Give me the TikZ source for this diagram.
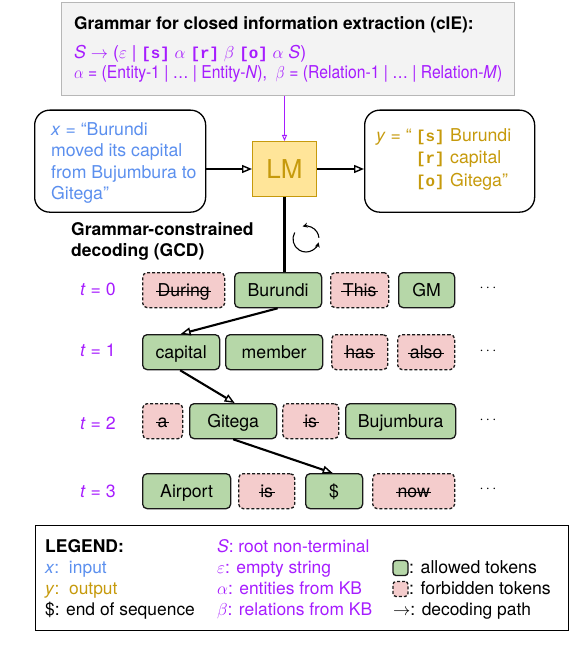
\documentclass[tikz,border=0pt]{standalone}
\usepackage{fontspec}
\setmainfont{TeX Gyre Heros}
\newfontfamily\brk{Liberation Mono}[BoldFont={Liberation Mono Bold}]
\usetikzlibrary{arrows.meta}
\definecolor{cblue}{HTML}{5B8FEE}
\definecolor{cgold}{HTML}{C69A0C}
\definecolor{cpurp}{HTML}{A61CFF}
\definecolor{cgreen}{HTML}{B6D7A8}
\definecolor{cpink}{HTML}{F4CCCC}
\definecolor{cyell}{HTML}{FFE599}
\definecolor{cgray}{HTML}{F3F3F3}
\definecolor{cgrayb}{HTML}{B7B7B7}
\newsavebox\strkbox
\newcommand\strk[1]{\sbox\strkbox{#1}\rlap{\usebox\strkbox}\kern-1.5pt\rule[4.8pt]{\dimexpr\wd\strkbox+3pt\relax}{1pt}\kern-1.5pt}
\newcommand\br[1]{{\fontsize{15.8}{18}\selectfont\brk\bfseries #1}}
\tikzset{
  x=1pt,y=1pt,
  txt/.style={anchor=base west,inner sep=0pt,font=\fontsize{17.7}{20}\selectfont},
  leg/.style={txt,font=\fontsize{17.4}{20}\selectfont},
  token/.style={draw=black!90,line width=1.3pt,rounded corners=4.5pt,inner sep=0pt,anchor=north west,text height=13pt,text depth=0pt,font=\fontsize{17.7}{20}\selectfont},
  ok/.style={token,fill=cgreen},
  bad/.style={token,fill=cpink,dashed,dash pattern=on 3pt off 2pt},
  tlabel/.style={text=cpurp,inner sep=0pt,font=\fontsize{17.7}{20}\selectfont},
  dots/.style={inner sep=0pt,font=\fontsize{14}{18}\selectfont},
  path/.style={line width=2.1pt,-{Triangle[length=10pt,width=8pt,line width=1.4pt,fill=white]}},
  textbox/.style={draw=black,line width=1.3pt,rounded corners=15pt,anchor=north west,inner sep=0pt},
}
\newcommand\tok[6]{\node[#1,minimum width=#4-#3,minimum height=35pt] (#2) at (#3,-#5) {#6};}
\begin{document}
\begin{tikzpicture}
\useasboundingbox (0,0) rectangle (570,-652);
% grammar
\node[anchor=north west,draw=cgrayb,fill=cgray,line width=0.9pt,minimum width=453pt,minimum height=93pt,inner sep=0pt] (gram) at (61,-2) {};
\node[txt,font=\fontsize{17.3}{20}\selectfont\bfseries] (gt) at (74,-30) {Grammar for closed information extraction (cIE):};
\node[txt,text=cpurp] (g1) at (74,-59) {\textit{S} $\rightarrow$ ($\varepsilon$ | \br{[s]} $\alpha$ \br{[r]} $\beta$ \br{[o]} $\alpha$ \textit{S})};
\node[txt,text=cpurp] (g2) at (74,-79) {\scalebox{0.887}[1]{$\alpha$ = (Entity-1 | … | Entity-\textit{N}),\ \ $\beta$ = (Relation-1 | … | Relation-\textit{M})}};
% input
\node[textbox,minimum width=171pt,minimum height=102pt] (inp) at (34,-109.5) {};
\node[txt,text=cblue] (i1) at (51,-135.5) {\textit{x} = “Burundi};
\node[txt,text=cblue] (i2) at (51,-157) {moved its capital};
\node[txt,text=cblue] (i3) at (51,-178.5) {from Bujumbura to};
\node[txt,text=cblue] (i4) at (51,-199.5) {Gitega”};
% LM
\node[anchor=north west,draw=cgold,fill=cyell,line width=1pt,minimum width=64pt,minimum height=55pt,inner sep=0pt,text=cgold,font=\fontsize{26}{30}\selectfont] (lm) at (252,-141) {LM};
% output
\node[textbox,minimum width=170pt,minimum height=102pt] (out) at (364,-109.5) {};
\node[txt,text=cgold] (o1) at (376,-142) {\textit{y} = “};
\node[txt,text=cgold] (o2) at (416,-142) {\br{[s]}};
\node[txt,text=cgold] (o3) at (450,-142) {Burundi};
\node[txt,text=cgold] (o4) at (416,-164) {\br{[r]}};
\node[txt,text=cgold] (o5) at (450,-164) {capital};
\node[txt,text=cgold] (o6) at (416,-186) {\br{[o]}};
\node[txt,text=cgold] (o7) at (450,-186) {Gitega”};
% GCD
\node[txt,font=\fontsize{17.5}{20}\selectfont\bfseries] (gcd1) at (71,-235) {Grammar-constrained};
\node[txt,font=\fontsize{17.5}{20}\selectfont\bfseries] (gcd2) at (71,-256) {decoding (GCD)};
% t labels
\node[tlabel] (t0) at (98,-289) {\textit{t} = 0};
\node[tlabel] (t1) at (98,-350) {\textit{t} = 1};
\node[tlabel] (t2) at (98,-423) {\textit{t} = 2};
\node[tlabel] (t3) at (98,-491) {\textit{t} = 3};
% row 0
\tok{bad}{a0}{142}{224}{272}{\strk{During}}
\tok{ok}{a1}{234}{321}{272}{Burundi}
\tok{bad}{a2}{330}{388}{272}{\strk{This}}
\tok{ok}{a3}{398}{454}{272}{GM}
\node[dots] (d0) at (488,-288) {$\cdots$};
% row 1
\tok{ok}{b0}{142}{219}{334}{capital}
\tok{ok}{b1}{225}{322}{334}{member}
\tok{bad}{b2}{331}{387}{334}{\strk{has}}
\tok{bad}{b3}{397}{454}{334}{\strk{also}}
\node[dots] (d1) at (488,-351) {$\cdots$};
% row 2
\tok{bad}{c0}{142}{182}{403}{\strk{a}}
\tok{ok}{c1}{189}{276}{403}{Gitega}
\tok{bad}{c2}{282}{338}{403}{\strk{is}}
\tok{ok}{c3}{345}{455}{403}{Bujumbura}
\node[dots] (d2) at (488,-420) {$\cdots$};
% row 3
\tok{ok}{e0}{142}{230}{473}{Airport}
\tok{bad}{e1}{238}{294}{473}{\strk{is}}
\tok{ok}{e2}{305}{362}{473}{\$}
\tok{bad}{e3}{372}{454}{473}{\strk{now}}
\node[dots] (d3) at (488,-489) {$\cdots$};
% connectors
\draw[cpurp,line width=1pt,-{Triangle[length=6pt,width=5pt,line width=0.9pt,fill=cgray]}] (gram.south -| lm.north) -- (lm.north);
\draw[path] (inp.east |- lm.west) -- (lm.west);
\draw[path] (lm.east) -- (out.west |- lm.east);
\draw[line width=2.1pt] (lm.south) -- (lm.south |- a1.north);
\draw[path] ([xshift=-0.5pt]a1.south) -- ([xshift=-0.5pt]b0.north);
\draw[path] ([xshift=-1pt]b0.south) -- ([xshift=1.5pt]c1.north);
\draw[path] (c1.south) -- ([xshift=-1.5pt]e2.north);
% cycle icon
\coordinate (cyc) at (306,-239);
\draw[line width=1.1pt,-{Stealth[length=5pt,width=5pt]}] ([shift={(5:13)}]cyc) arc[start angle=5,end angle=105,radius=13];
\draw[line width=1.1pt,-{Stealth[length=5pt,width=5pt]}] ([shift={(150:13)}]cyc) arc[start angle=150,end angle=345,radius=13];
% legend
\node[anchor=north west,draw=black,line width=1.3pt,minimum width=533pt,minimum height=105pt,inner sep=0pt] (legbox) at (35,-525) {};
\node[txt,font=\fontsize{17.5}{20}\selectfont\bfseries] (l1) at (45,-552) {LEGEND:};
\node[leg] (l2) at (45,-573) {\textcolor{cblue}{\textit{x}:\ \ input}};
\node[leg] (l3) at (45,-594) {\textcolor{cgold}{\textit{y}:\ \ output}};
\node[leg] (l4) at (45,-615) {\$: end of sequence};
\node[leg,text=cpurp] (m1) at (217,-552) {\textit{S}: root non-terminal};
\node[leg,text=cpurp] (m2) at (217,-573) {$\varepsilon$: empty string};
\node[leg,text=cpurp] (m3) at (217,-594) {$\alpha$: entities from KB};
\node[leg,text=cpurp] (m4) at (217,-615) {$\beta$: relations from KB};
\node[draw=black!90,fill=cgreen,line width=1.3pt,rounded corners=3pt,minimum width=15pt,minimum height=15pt,inner sep=0pt] (s1) at (400.5,-568) {};
\node[draw=black!90,fill=cpink,line width=1.3pt,rounded corners=3pt,dashed,dash pattern=on 3pt off 2pt,minimum width=15pt,minimum height=15pt,inner sep=0pt] (s2) at (400.5,-589) {};
\node[txt] (r1) at (409,-573) {: allowed tokens};
\node[txt] (r2) at (409,-594) {: forbidden tokens};
\node[leg] (r3) at (393,-615) {$\rightarrow$: decoding path};
\end{tikzpicture}
\end{document}
